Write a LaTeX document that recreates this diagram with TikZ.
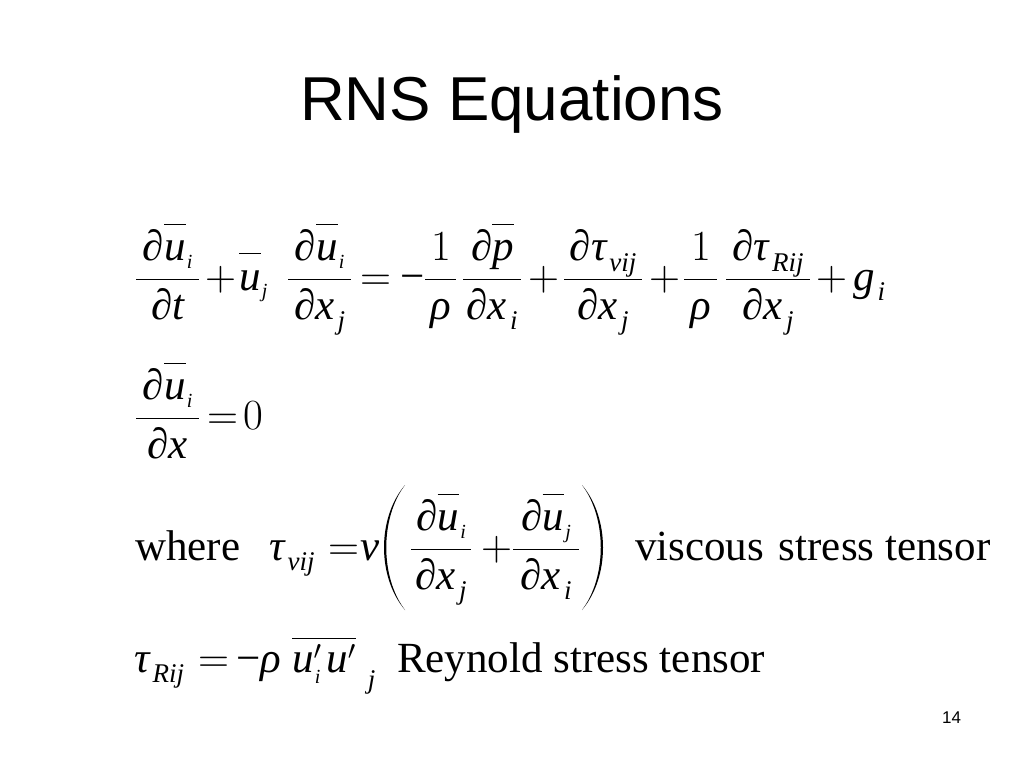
\RequirePackage{fix-cm}
\documentclass[tikz,border=0pt]{standalone}
\usepackage{fontspec}
\setmainfont{Liberation Serif}
\newfontfamily\arialfont{Liberation Sans}
\DeclareSymbolFont{timesit}{TU}{\rmdefault}{m}{it}
\DeclareSymbolFont{timesrm}{TU}{\rmdefault}{m}{n}
\DeclareMathSizes{43}{43}{27}{20}
\DeclareMathSymbol{u}{\mathalpha}{timesit}{`u}
\DeclareMathSymbol{t}{\mathalpha}{timesit}{`t}
\DeclareMathSymbol{x}{\mathalpha}{timesit}{`x}
\DeclareMathSymbol{p}{\mathalpha}{timesit}{`p}
\DeclareMathSymbol{g}{\mathalpha}{timesit}{`g}
\DeclareMathSymbol{i}{\mathalpha}{timesit}{`i}
\DeclareMathSymbol{j}{\mathalpha}{timesit}{`j}
\DeclareMathSymbol{v}{\mathalpha}{timesit}{`v}
\DeclareMathSymbol{R}{\mathalpha}{timesit}{`R}
\DeclareMathSymbol{0}{\mathalpha}{timesrm}{`0}
\DeclareMathSymbol{1}{\mathalpha}{timesrm}{`1}
\DeclareMathSymbol{+}{\mathbin}{timesrm}{`+}
\DeclareMathSymbol{=}{\mathrel}{timesrm}{`=}
\Umathcode`-="2 \symtimesrm "2212
\Umathchardef\mytau="0 \symtimesit "03C4
\Umathchardef\myrho="0 \symtimesit "03C1
\Umathchardef\mynu="0 \symtimesit "03BD
\Umathchardef\mypartial="0 \symtimesit "2202
% bar over a letter, raised as in the slide
\newcommand\ubar[1]{\overline{\vrule height 35pt width 0pt depth 0pt #1}}
% small subscript sitting almost on the baseline
\newcommand\si[1]{_{\lower1pt\hbox{$\scriptscriptstyle\mkern1mu #1$}}}
% lowered subscript
\newcommand\lsub[1]{_{\lower4pt\hbox{$\scriptstyle\mkern2mu #1$}}}
% fraction with a bar of a given width
\newcommand\fr[3]{{\nulldelimiterspace=0pt\frac{\hbox to #1pt{\hss$#2$\hss}}{\hbox to #1pt{\hss$#3$\hss}}}}
\tikzset{
  eqn/.style={anchor=base west, inner sep=0pt, font=\fontsize{43}{52}\selectfont},
  titletext/.style={anchor=base, inner sep=0pt, font=\arialfont\fontsize{62}{70}\selectfont},
  pagenum/.style={anchor=base west, inner sep=0pt, font=\arialfont\fontsize{17}{20}\selectfont},
  paren/.style={fill=black}
}
\begin{document}
\begin{tikzpicture}[x=1pt,y=-1pt]
\useasboundingbox[fill=white] (0,0) rectangle (1024,768);
\node[titletext] (title) at (512,120) {RNS Equations};
% momentum equation, baseline 290
\node[eqn] (m1) at (135,290) {$\displaystyle\fr{63}{\mypartial\ubar{u}\si{i}}{\mypartial t}$};
\node[eqn] (m2) at (205,290) {$+$};
\node[eqn] (m3) at (239,290) {$\ubar{u}\si{j}$};
\node[eqn] (m4) at (287,290) {$\displaystyle\fr{63}{\mypartial\ubar{u}\si{i}}{\mypartial x\lsub{j}}$};
\node[eqn] (m5) at (360,290) {$\mathord{=}\mkern4mu\mathord{-}$};
\node[eqn] (m7) at (424,290) {$\displaystyle\fr{31}{1}{\myrho}$};
\node[eqn] (m8) at (462,290) {$\displaystyle\fr{58}{\mypartial\ubar{p}}{\mypartial x\lsub{i}}$};
\node[eqn] (m9) at (528,290) {$+$};
\node[eqn] (m10) at (563,290) {$\displaystyle\fr{78}{\mypartial\mytau\lsub{vij}}{\mypartial x\lsub{j}}$};
\node[eqn] (m11) at (649,290) {$+$};
\node[eqn] (m12) at (683,290) {$\displaystyle\fr{33}{1}{\myrho}$};
\node[eqn] (m13) at (725,290) {$\displaystyle\fr{84}{\mypartial\mytau\lsub{Rij}}{\mypartial x\lsub{j}}$};
\node[eqn] (m14) at (816,290) {$+$};
\node[eqn] (m15) at (853,290) {$g\lsub{i}$};
% continuity, baseline 429
\node[eqn] (c1) at (135,429) {$\displaystyle\fr{63}{\mypartial\ubar{u}\si{i}}{\mypartial x}$};
\node[eqn] (c2) at (207,429) {$=$};
\node[eqn] (c3) at (243,429) {$0$};
% viscous stress, baseline 560
\node[eqn] (where) at (135,560) {where};
\node[eqn] (v1) at (269,560) {$\mytau\lsub{vij}$};
\node[eqn] (v2) at (328,560) {$=$};
\node[eqn] (v3) at (360,560) {$\mynu$};
\fill[paren] (405,485) .. controls (377,518) and (377,577) .. (405,610)
             .. controls (380,577) and (380,518) .. cycle;
\node[eqn] (v5) at (410,560) {$\displaystyle\fr{60}{\mypartial\ubar{u}\si{i}}{\mypartial x\lsub{j}}$};
\node[eqn] (v6) at (481,560) {$+$};
\node[eqn] (v7) at (512,560) {$\displaystyle\fr{66}{\mypartial\ubar{u}\si{j}}{\mypartial x\lsub{i}}$};
\fill[paren] (582,485) .. controls (610,518) and (610,577) .. (582,610)
             .. controls (607,577) and (607,518) .. cycle;
\node[eqn] (viscouslabel) at (635,560) {viscous\hspace{4pt} stress tensor};
% Reynolds stress, baseline 672
\node[eqn] (r1) at (134,672) {$\mytau\lsub{Rij}$};
\node[eqn] (r2) at (198,672) {$\mathord{=}\mkern3mu\mathord{-}$};
\node[eqn] (r4) at (260,672) {$\myrho$};
\node[eqn] (r5) at (292,672) {$\overline{\vrule height 32pt width 0pt depth 0pt u'\si{i}\mkern2mu u'}\lsub{\mkern6mu j}$};
\node[eqn] (reynoldslabel) at (397,672) {Reynold stress tensor};
\node[pagenum] (page) at (942,723) {14};
\end{tikzpicture}
\end{document}
